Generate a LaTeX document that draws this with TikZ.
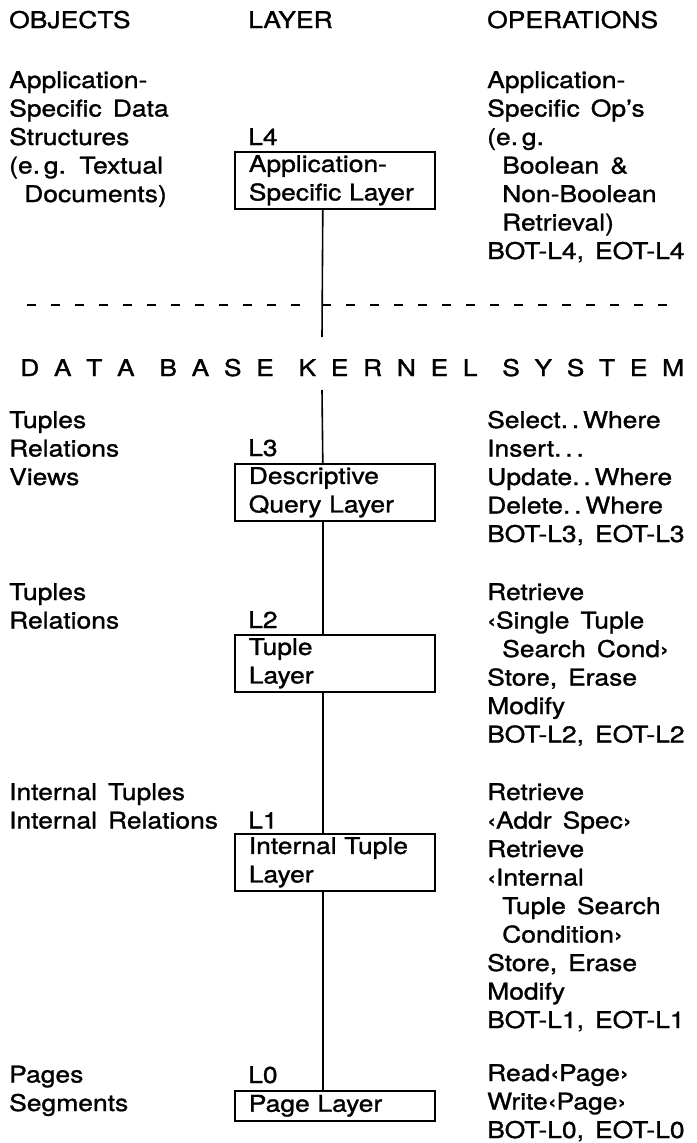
\documentclass[tikz,border=0pt]{standalone}
\usepackage{fontspec}
\setmainfont{TeX Gyre Heros}[FakeStretch=1.15, FakeBold=1.2, WordSpace=1.5]
\usetikzlibrary{positioning}

\begin{document}
\begin{tikzpicture}[
    x=1pt, y=-1pt,
    every node/.style={font=\fontsize{23}{28.5}\selectfont, inner sep=0pt},
    coltext/.style={anchor=base west, align=left},
    layerbox/.style={draw, line width=1.6pt, anchor=north west, minimum width=200pt, minimum height=57pt, text width=172pt, inner xsep=14pt, align=left},
    link/.style={draw, line width=1.6pt},
    divider/.style={draw, line width=1.4pt, dash pattern=on 9pt off 15pt}
  ]
  \useasboundingbox (0,0) rectangle (696,1143);

  % Headings (base = last line)
  \node [coltext] (objects) at (9,28) {OBJECTS};
  \node [coltext] (layer) at (248,28) {LAYER};
  \node [coltext] (operations) at (487,28) {OPERATIONS};

  % L4
  \node [coltext] (obj4) at (9,202) {Application-\\Specific Data\\Structures\\(e.\,g. Textual\\\hspace*{15pt}Documents)};
  \node [coltext] (l4) at (248,145) {L4};
  \node [layerbox] (l4box) at (234,151) {Application-\\Specific Layer};
  \node [coltext] (ops4) at (487,259) {Application-\\Specific Op's\\(e.\,g.\\\hspace*{15pt}Boolean \&\\\hspace*{15pt}Non-Boolean\\\hspace*{15pt}Retrieval)\\BOT-L4, EOT-L4};

  % Trennlinie
  \coordinate (sepL) at (27,305);
  \coordinate (sepM) at (322,305);
  \coordinate (sepR) at (668,305);
  \draw [divider] (sepL) -- ([xshift=-12pt]sepM);
  \draw [divider] (sepM) -- (sepR);

  \node [anchor=base west] (kernel) at (20,376) {\makebox[664pt][s]{D\hfill A\hfill T\hfill A\hspace{10pt}\hfill B\hfill A\hfill S\hfill E\hspace{10pt}\hfill K\hfill E\hfill R\hfill N\hfill E\hfill L\hspace{10pt}\hfill S\hfill Y\hfill S\hfill T\hfill E\hfill M}};
  \coordinate (kerneltop) at (322,337);
  \coordinate (kernelbot) at (322,390);

  % L3
  \node [coltext] (obj3) at (9,485) {Tuples\\Relations\\Views};
  \node [coltext] (l3) at (248,456) {L3};
  \node [layerbox] (l3box) at (234,463) {Descriptive\\Query Layer};
  \node [coltext] (ops3) at (487,542) {Select.\,.\,Where\\Insert.\,.\,.\\Update.\,.\,Where\\Delete.\,.\,Where\\BOT-L3, EOT-L3};

  % L2
  \node [coltext] (obj2) at (9,628.5) {Tuples\\Relations};
  \node [coltext] (l2) at (248,628) {L2};
  \node [layerbox] (l2box) at (234,634) {Tuple\\Layer};
  \node [coltext] (ops2) at (487,742.5) {Retrieve\\‹Single Tuple\\\hspace*{15pt}Search Cond›\\Store, Erase\\Modify\\BOT-L2, EOT-L2};

  % L1
  \node [coltext] (obj1) at (9,828.5) {Internal Tuples\\Internal Relations};
  \node [coltext] (l1) at (248,828.5) {L1};
  \node [layerbox] (l1box) at (234,833) {Internal Tuple\\Layer};
  \node [coltext] (ops1) at (487,1028) {Retrieve\\‹Addr Spec›\\Retrieve\\‹Internal\\\hspace*{15pt}Tuple Search\\\hspace*{15pt}Condition›\\Store, Erase\\Modify\\BOT-L1, EOT-L1};

  % L0
  \node [coltext] (obj0) at (9,1111) {Pages\\Segments};
  \node [coltext] (l0) at (248,1083) {L0};
  \node [layerbox, minimum height=30pt] (l0box) at (234,1090) {Page Layer};
  \node [coltext] (ops0) at (487,1138) {Read‹Page›\\Write‹Page›\\BOT-L0, EOT-L0};

  % Linien
  \draw [link] ([xshift=-12pt]l4box.south) -- (kerneltop);
  \draw [link] (kernelbot) -- ([xshift=-12pt]l3box.north);
  \draw [link] ([xshift=-12pt]l3box.south) -- ([xshift=-12pt]l2box.north);
  \draw [link] ([xshift=-12pt]l2box.south) -- ([xshift=-12pt]l1box.north);
  \draw [link] ([xshift=-12pt]l1box.south) -- ([xshift=-12pt]l0box.north);
\end{tikzpicture}
\end{document}
